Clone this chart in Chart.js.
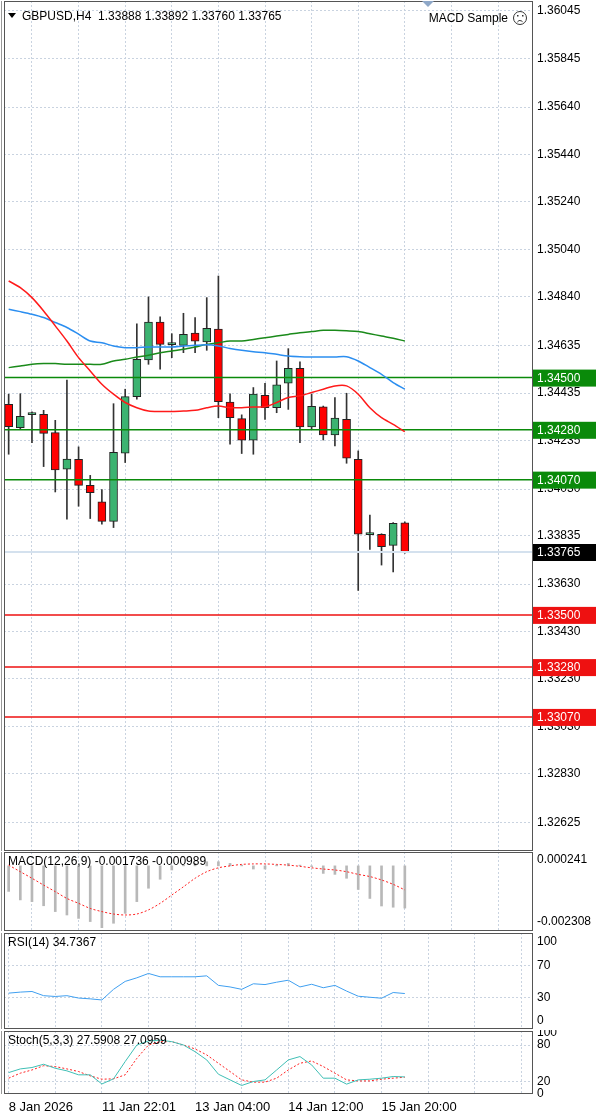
<!DOCTYPE html>
<html><head><meta charset="utf-8">
<script src="https://cdn.jsdelivr.net/npm/chart.js@4.4.1/dist/chart.umd.min.js"></script>
<style>
html,body{margin:0;padding:0;background:#fff;width:600px;height:1118px;overflow:hidden}
.p{position:absolute;left:0;width:600px}
</style></head><body>
<div class="p" style="top:0;height:851px"><canvas id="c1"></canvas></div>
<div class="p" style="top:851px;height:81px"><canvas id="c2"></canvas></div>
<div class="p" style="top:932px;height:98px"><canvas id="c3"></canvas></div>
<div class="p" style="top:1030px;height:88px"><canvas id="c4"></canvas></div>
<script>
const openP=[1.34387,1.34289,1.34344,1.34345,1.34268,1.34114,1.34156,1.34046,1.33976,1.33894,1.34181,1.34420,1.34574,1.34734,1.34639,1.34636,1.34688,1.34650,1.34704,1.34397,1.34327,1.34236,1.34425,1.34373,1.34476,1.34539,1.34292,1.34377,1.34258,1.34324,1.34156,1.33838,1.33840,1.33793,1.33888];
const highP=[1.34430,1.34432,1.34356,1.34362,1.34320,1.34489,1.34208,1.34088,1.34028,1.34390,1.34451,1.34727,1.34840,1.34756,1.34685,1.34771,1.34753,1.34837,1.34928,1.34432,1.34343,1.34458,1.34476,1.34570,1.34622,1.34566,1.34430,1.34380,1.34416,1.34434,1.34191,1.33921,1.33842,1.33889,1.33892];
const lowP=[1.34177,1.34282,1.34226,1.34125,1.34018,1.33903,1.33958,1.33906,1.33882,1.33868,1.34142,1.34409,1.34556,1.34535,1.34584,1.34605,1.34605,1.34615,1.34331,1.34219,1.34180,1.34177,1.34324,1.34352,1.34366,1.34226,1.34282,1.34237,1.34212,1.34139,1.33603,1.33776,1.33710,1.33681,1.33760];
const closeP=[1.34293,1.34337,1.34344,1.34265,1.34111,1.34157,1.34046,1.34015,1.33894,1.34185,1.34420,1.34577,1.34734,1.34640,1.34639,1.34682,1.34653,1.34708,1.34399,1.34331,1.34236,1.34430,1.34373,1.34469,1.34539,1.34292,1.34379,1.34258,1.34329,1.34160,1.33840,1.33838,1.33788,1.33886,1.33765];
const maFast=[1.34907,1.34879,1.34837,1.34781,1.34718,1.34654,1.34584,1.34528,1.34472,1.34430,1.34395,1.34373,1.34359,1.34357,1.34357,1.34359,1.34362,1.34373,1.34380,1.34373,1.34373,1.34376,1.34377,1.34395,1.34416,1.34423,1.34437,1.34451,1.34465,1.34465,1.34430,1.34373,1.34331,1.34303,1.34272];
const maMid=[1.34788,1.34778,1.34767,1.34753,1.34732,1.34711,1.34683,1.34654,1.34647,1.34633,1.34626,1.34626,1.34629,1.34629,1.34629,1.34633,1.34636,1.34638,1.34633,1.34623,1.34615,1.34609,1.34605,1.34598,1.34591,1.34588,1.34587,1.34587,1.34587,1.34588,1.34570,1.34542,1.34514,1.34479,1.34451];
const maSlow=[1.34542,1.34549,1.34556,1.34559,1.34559,1.34556,1.34556,1.34556,1.34556,1.34570,1.34577,1.34587,1.34594,1.34605,1.34612,1.34619,1.34629,1.34640,1.34647,1.34654,1.34654,1.34661,1.34668,1.34675,1.34682,1.34689,1.34694,1.34699,1.34699,1.34697,1.34694,1.34685,1.34675,1.34666,1.34654];
const resistLevels=[1.34500,1.34280,1.34070];
const supportLevels=[1.33500,1.33280,1.33070];
const lastPrice=1.33765;
const priceTicks=[1.36045,1.35845,1.35640,1.35440,1.35240,1.35040,1.34840,1.34635,1.34435,1.34235,1.34030,1.33835,1.33630,1.33430,1.33230,1.33030,1.32830,1.32625];
const macdMain=[-0.00105,-0.00140,-0.00147,-0.00164,-0.00188,-0.00202,-0.00216,-0.00229,-0.00254,-0.00236,-0.00195,-0.00147,-0.00092,-0.00055,-0.00017,0.00003,0.00010,0.00017,0.00017,0.00010,0.00003,-0.00013,-0.00013,0.00003,0.00010,0.00003,-0.00003,-0.00031,-0.00035,-0.00051,-0.00097,-0.00134,-0.00165,-0.00170,-0.001736];
const macdSignal=[0.00003,-0.00024,-0.00051,-0.00079,-0.00106,-0.00134,-0.00154,-0.00175,-0.00188,-0.00198,-0.00202,-0.00198,-0.00181,-0.00154,-0.00120,-0.00086,-0.00051,-0.00024,-0.00008,0.00000,0.00006,0.00008,0.00008,0.00006,0.00003,-0.00002,-0.00008,-0.00013,-0.00017,-0.00024,-0.00035,-0.00044,-0.00058,-0.00076,-0.000989];
const macdTicks=[0.000241,-0.002308];
const rsi=[35.2,36.5,37.3,32,31,32,29,28,26.6,40,50,54.5,60,55.8,55.8,55.8,55.8,57,45,43,40,47,46,49,51.5,43,46.4,42,45,37.8,31.3,30,28.8,36,34.7];
const rsiTicks=[100,70,30,0];
const stochK=[34.7,40.7,43,48.4,41.8,37.5,31,31,16,24.4,52.8,80,86.6,88,85.5,80,69,55.5,32,22.7,13.5,20,22.7,39,55.5,61,47.3,25.5,25.5,15.7,22.7,23.8,25.5,28.2,27.6];
const stochD=[25.5,33.7,39,46,44.6,40.7,36.4,29.3,23.8,24.4,31,58,80,85.5,85.5,80,73.5,63.7,50,36.4,22.7,19,19,25.5,39,50,53.8,44.6,33.7,22.7,21,21,23.8,25.5,27.1];
const stochTicks=[100,80,20,0];
const timeLabels={0:'8 Jan 2026',8:'11 Jan 22:01',16:'13 Jan 04:00',24:'14 Jan 12:00',32:'15 Jan 20:00'};

const FONT='"Liberation Sans", Arial, sans-serif';
Chart.defaults.font.family=FONT; Chart.defaults.font.size=12; Chart.defaults.color='#000';
Chart.defaults.animation=false; Chart.defaults.responsive=true; Chart.defaults.maintainAspectRatio=false;
const idx=openP.map((_,i)=>i);
const pts=a=>a.map((v,i)=>({x:i,y:v}));
const GRID={color:'#c9d3e0',lineWidth:1,drawTicks:false};
const frame={id:'frame',afterDraw(c){const a=c.chartArea,x=c.ctx;x.save();x.strokeStyle='#555';x.lineWidth=1;x.strokeRect(a.left+0.5,a.top+0.5,a.right-a.left-1,a.bottom-a.top-1);x.fillStyle='#999';x.fillRect(a.left-3,a.top,1,a.bottom-a.top);x.restore();}};
function zeroPad(s){s.paddingTop=0;s.paddingBottom=0;s.paddingLeft=0;s.paddingRight=0;}
function xScale(showLabels){return {type:'linear',min:-0.4,max:45,offset:false,
  grid:{...GRID},border:{display:false,dash:[2,2]},
  afterBuildTicks:s=>{s.ticks=[];for(let i=0;i<=44;i+=4)s.ticks.push({value:i});},
  ticks:{display:showLabels,align:'start',padding:6,maxRotation:0,autoSkip:false,font:{size:13},callback:v=>timeLabels[v]||''},
  afterFit:s=>{s.height=showLabels?24:0;zeroPad(s);}};}
function yScale(min,max,ticks,fmt,gridFilter){return {position:'right',min,max,
  grid:{...GRID,color:ctx=>gridFilter&&!gridFilter(ctx.tick&&ctx.tick.value)?'rgba(0,0,0,0)':'#c9d3e0'},border:{display:false,dash:[2,2]},
  afterBuildTicks:s=>{s.ticks=ticks.map(v=>({value:v}));},
  ticks:{padding:4,autoSkip:false,callback:fmt,font:{size:12}},
  afterFit:s=>{s.width=67;zeroPad(s);}};}

const levelLabels={id:'lv',afterDraw(c){const x=c.ctx,y=c.scales.y,a=c.chartArea;x.save();x.font='12px '+FONT;x.textBaseline='middle';
  const box=(v,bg)=>{const py=y.getPixelForValue(v);x.fillStyle=bg;x.fillRect(a.right,py-8,63,17);x.fillStyle='#fff';x.fillText(v.toFixed(5),a.right+4,py+1);};
  resistLevels.forEach(v=>box(v,'#0a8a0a'));supportLevels.forEach(v=>box(v,'#ee1111'));box(lastPrice,'#000');
  x.fillStyle='#000';x.font='12px '+FONT;x.textBaseline='alphabetic';
  x.fillText('GBPUSD,H4  1.33888 1.33892 1.33760 1.33765',22,20);
  x.beginPath();x.moveTo(8,13);x.lineTo(16,13);x.lineTo(12,18);x.closePath();x.fill();
  x.textAlign='right';x.fillText('MACD Sample',508,22);
  x.beginPath();x.arc(520,18,6.5,0,Math.PI*2);x.strokeStyle='#333';x.stroke();
  x.fillStyle='#333';x.fillRect(517,15,1.5,1.5);x.fillRect(522,15,1.5,1.5);
  x.beginPath();x.arc(520,23.5,3,Math.PI*1.15,Math.PI*1.85);x.stroke();
  x.fillStyle='#8fa8c8';x.beginPath();x.moveTo(422,1);x.lineTo(434,1);x.lineTo(428,7);x.closePath();x.fill();
  x.restore();}};
const lvlDs=(v,col,w)=>({type:'line',data:[{x:-0.4,y:v},{x:45,y:v}],borderColor:col,borderWidth:w,pointRadius:0,order:2});
new Chart(document.getElementById('c1'),{type:'bar',
 data:{datasets:[
  {data:idx.map(i=>({x:i,y:[lowP[i],highP[i]]})),backgroundColor:'#333',barThickness:1,grouped:false,order:20},
  {data:idx.map(i=>({x:i,y:[openP[i],closeP[i]]})),backgroundColor:idx.map(i=>closeP[i]>=openP[i]?'#3cb371':'#ff0000'),borderColor:'#222',borderWidth:1,borderSkipped:false,barThickness:8,minBarLength:2,grouped:false,order:10},
  lvlDs(lastPrice,'#d4e1ee',2),
  ...resistLevels.map(v=>lvlDs(v,'#0a8a0a',1.5)),
  ...supportLevels.map(v=>lvlDs(v,'#ee1111',1.5)),
  {type:'line',data:pts(maFast),borderColor:'#ff1a1a',borderWidth:1.5,pointRadius:0,tension:0.3,order:1},
  {type:'line',data:pts(maMid),borderColor:'#2b8ef0',borderWidth:1.5,pointRadius:0,tension:0.3,order:1},
  {type:'line',data:pts(maSlow),borderColor:'#1a8a1a',borderWidth:1.5,pointRadius:0,tension:0.3,order:1}
 ]},
 options:{layout:{padding:{left:4,top:1,bottom:0,right:0}},plugins:{legend:{display:false},tooltip:{enabled:false}},
  scales:{x:xScale(false),y:yScale(1.32505,1.36087,priceTicks,v=>v.toFixed(5))}},
 plugins:[frame,levelLabels]});

const titlePl=t=>({id:'t',afterDraw(c){const x=c.ctx;x.save();x.font='12px '+FONT;x.fillStyle='#000';x.fillText(t,c.chartArea.left+4,c.chartArea.top+13);x.restore();}});
new Chart(document.getElementById('c2'),{type:'bar',
 data:{datasets:[
  {data:pts(macdMain),backgroundColor:'#b8b8b8',barThickness:2,grouped:false,order:2},
  {type:'line',data:pts(macdSignal),borderColor:'#ff2020',borderWidth:1,borderDash:[2,2],pointRadius:0,tension:0.3,order:1}]},
 options:{layout:{padding:{left:4,top:1,bottom:1}},plugins:{legend:{display:false},tooltip:{enabled:false}},
  scales:{x:xScale(false),y:yScale(-0.002678,0.00057,macdTicks,v=>v.toFixed(6),()=>false)}},
 plugins:[frame,titlePl('MACD(12,26,9) -0.001736 -0.000989')]});

new Chart(document.getElementById('c3'),{type:'line',
 data:{datasets:[{data:pts(rsi),borderColor:'#3f9ff0',borderWidth:1,pointRadius:0}]},
 options:{layout:{padding:{left:4,top:1,bottom:1}},plugins:{legend:{display:false},tooltip:{enabled:false}},
  scales:{x:xScale(false),y:yScale(-10,111,rsiTicks,v=>String(v),v=>v===70||v===30)}},
 plugins:[frame,titlePl('RSI(14) 34.7367')]});

new Chart(document.getElementById('c4'),{type:'line',
 data:{datasets:[
  {data:pts(stochK),borderColor:'#3fbfb5',borderWidth:1,pointRadius:0},
  {data:pts(stochD),borderColor:'#ff2020',borderWidth:1,borderDash:[2,2],pointRadius:0}]},
 options:{layout:{padding:{left:4,top:1,bottom:0}},plugins:{legend:{display:false},tooltip:{enabled:false}},
  scales:{x:xScale(true),y:yScale(-0.5,103,stochTicks,v=>String(v),v=>v===80||v===20)}},
 plugins:[frame,titlePl('Stoch(5,3,3) 27.5908 27.0959')]});
</script></body></html>
